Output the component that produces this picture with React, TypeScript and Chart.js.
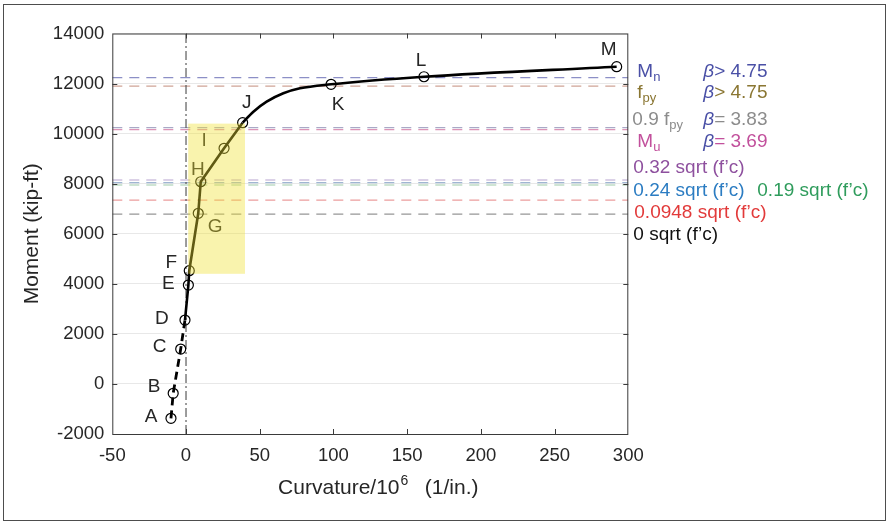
import React, { useEffect, useRef } from "react";
import { Chart, registerables } from "chart.js";

Chart.register(...registerables);

// ---- data ----
const pointNames = ["A", "B", "C", "D", "E", "F", "G", "H", "I", "J", "K", "L", "M"];
const pointX = [-10.2, -8.7, -3.6, -0.7, 1.6, 2.2, 8.3, 10.0, 25.8, 38.4, 98.4, 161.4, 292.1];
const pointY = [-1374, -375, 1394, 2553, 3950, 4523, 6816, 8078, 9413, 10436, 11970, 12273, 12673];

// dashed (pre-cracking) part: A..D, solid part D..J, smooth part J..M
const dashedX = [-10.2, -8.7, -3.6, -0.7];
const dashedY = [-1374, -375, 1394, 2553];
const solidX = [-0.7, 1.6, 2.2, 8.3, 10.0, 25.8, 38.4];
const solidY = [2553, 3950, 4523, 6816, 8078, 9413, 10436];
const curveX = [38.4, 45.7, 54.7, 66.0, 77.3, 98.4, 161.4, 292.1];
const curveY = [10436, 10875, 11275, 11610, 11810, 11970, 12273, 12673];

// horizontal reference levels
const refNames = ["Mn", "fpy", "0.9 fpy", "Mu", "0.32 sqrt", "0.24 sqrt", "0.19 sqrt", "0.0948 sqrt", "0 sqrt"];
const refValues = [12236, 11900, 10240, 10160, 8147, 8040, 7947, 7347, 6788];
const refColors = ["#8c8fc6", "#cfa496", "#a9a9c6", "#dc94b6", "#b7a3cf", "#9fb6d2", "#9fcbaa", "#ec9d9d", "#969696"];

// shaded region
const shadeX = [1.5, 40];
const shadeY = [4400, 10400];

const xMin = -50, xMax = 300, xStep = 50;
const yMin = -2000, yMax = 14000, yStep = 2000;

const FONT = '"Liberation Sans", Arial, Helvetica, sans-serif';
const TXT = "#262626";

const labelOffsets: Record<string, [number, number]> = {
  A: [-20, -2], B: [-19, -7], C: [-21, -2], D: [-23, -1], E: [-20, -1], F: [-18, -8],
  G: [17, 13], H: [-3, -12], I: [-20, -8], J: [4, -20], K: [7, 20], L: [-3, -16], M: [-8, -17],
};

type Part = { t: string; c: string; sub?: boolean; it?: boolean };

function drawRich(ctx: CanvasRenderingContext2D, x: number, baseline: number, parts: Part[]) {
  let cx = x;
  for (const p of parts) {
    const size = p.sub ? 13 : 19;
    ctx.font = `${p.it ? "italic " : ""}${size}px ${FONT}`;
    ctx.fillStyle = p.c;
    ctx.textAlign = "left";
    ctx.textBaseline = "alphabetic";
    ctx.fillText(p.t, cx, baseline + (p.sub ? 4 : 0));
    cx += ctx.measureText(p.t).width;
  }
}

const overlayPlugin = {
  id: "overlay",
  afterDatasetsDraw(chart: any) {
    const { ctx, scales } = chart;
    const x = scales.x, y = scales.y;
    ctx.save();
    ctx.font = `19px ${FONT}`;
    ctx.fillStyle = TXT;
    ctx.textAlign = "center";
    ctx.textBaseline = "middle";
    pointNames.forEach((n, i) => {
      const [dx, dy] = labelOffsets[n];
      ctx.fillText(n, x.getPixelForValue(pointX[i]) + dx, y.getPixelForValue(pointY[i]) + dy);
    });
    // semi-transparent yellow patch on top
    const x0 = x.getPixelForValue(shadeX[0]);
    const x1 = x.getPixelForValue(shadeX[1]);
    const y0 = y.getPixelForValue(shadeY[1]);
    const y1 = y.getPixelForValue(shadeY[0]);
    ctx.fillStyle = "rgba(240,225,50,0.4)";
    ctx.fillRect(x0, y0, x1 - x0, y1 - y0);
    ctx.restore();
  },
  afterDraw(chart: any) {
    const { ctx, chartArea: a, scales } = chart;
    const x = scales.x, y = scales.y;
    ctx.save();
    // axes box
    ctx.strokeStyle = "#3a3a3a";
    ctx.lineWidth = 1;
    ctx.strokeRect(a.left + 0.5, a.top + 0.5, a.right - a.left - 1, a.bottom - a.top);
    // inward ticks
    ctx.beginPath();
    for (let v = xMin + xStep; v < xMax; v += xStep) {
      const px = Math.round(x.getPixelForValue(v)) + 0.5;
      ctx.moveTo(px, a.bottom); ctx.lineTo(px, a.bottom - 5);
      ctx.moveTo(px, a.top); ctx.lineTo(px, a.top + 5);
    }
    for (let v = yMin + yStep; v < yMax; v += yStep) {
      const py = Math.round(y.getPixelForValue(v)) + 0.5;
      ctx.moveTo(a.left, py); ctx.lineTo(a.left + 5, py);
      ctx.moveTo(a.right, py); ctx.lineTo(a.right - 5, py);
    }
    ctx.stroke();

    // x-axis title with superscript
    const cxTitle = (a.left + a.right) / 2 + 8;
    const base = 494;
    ctx.font = `21px ${FONT}`;
    const w1 = ctx.measureText("Curvature/10").width;
    const w3 = ctx.measureText("   (1/in.)").width;
    ctx.font = `14px ${FONT}`;
    const w2 = ctx.measureText("6").width;
    let sx = cxTitle - (w1 + w2 + w3) / 2;
    ctx.fillStyle = TXT;
    ctx.textAlign = "left";
    ctx.textBaseline = "alphabetic";
    ctx.font = `21px ${FONT}`;
    ctx.fillText("Curvature/10", sx, base);
    sx += w1;
    ctx.font = `14px ${FONT}`;
    ctx.fillText("6", sx + 1, base - 9);
    sx += w2;
    ctx.font = `21px ${FONT}`;
    ctx.fillText("   (1/in.)", sx, base);

    // right-hand annotations
    const beta = "#4a50a6";
    const lx = a.right + 9;
    const bx = a.right + 75;
    drawRich(ctx, lx, 77, [{ t: "M", c: "#4a50a6" }, { t: "n", c: "#4a50a6", sub: true }]);
    drawRich(ctx, bx, 77, [{ t: "β", c: beta, it: true }, { t: "> 4.75", c: "#4a50a6" }]);
    drawRich(ctx, lx, 98, [{ t: "f", c: "#8a7632" }, { t: "py", c: "#8a7632", sub: true }]);
    drawRich(ctx, bx, 98, [{ t: "β", c: beta, it: true }, { t: "> 4.75", c: "#8a7632" }]);
    drawRich(ctx, lx - 5, 125, [{ t: "0.9 f", c: "#8c8c8c" }, { t: "py", c: "#8c8c8c", sub: true }]);
    drawRich(ctx, bx, 125, [{ t: "β", c: beta, it: true }, { t: "= 3.83", c: "#8c8c8c" }]);
    drawRich(ctx, lx, 147, [{ t: "M", c: "#c2509c" }, { t: "u", c: "#c2509c", sub: true }]);
    drawRich(ctx, bx, 147, [{ t: "β", c: beta, it: true }, { t: "= 3.69", c: "#c2509c" }]);
    drawRich(ctx, lx - 4, 173, [{ t: "0.32 sqrt (f’c)", c: "#8e509e" }]);
    drawRich(ctx, lx - 4, 196, [{ t: "0.24 sqrt (f’c)", c: "#2b7cc2" }]);
    drawRich(ctx, lx + 120, 196, [{ t: "0.19 sqrt (f’c)", c: "#2f9c5c" }]);
    drawRich(ctx, lx - 3, 217.5, [{ t: "0.0948 sqrt (f’c)", c: "#e23a3a" }]);
    drawRich(ctx, lx - 4, 239.5, [{ t: "0 sqrt (f’c)", c: "#111111" }]);
    ctx.restore();
  },
};

export default function App() {
  const canvasRef = useRef<HTMLCanvasElement | null>(null);

  useEffect(() => {
    if (!canvasRef.current) return;
    const toPts = (xs: number[], ys: number[]) => xs.map((v, i) => ({ x: v, y: ys[i] }));
    const lineBase = { showLine: true, pointRadius: 0, fill: false, tension: 0 };

    const refSets = refValues.map((v, i) => ({
      ...lineBase,
      label: refNames[i],
      data: [{ x: xMin, y: v }, { x: xMax, y: v }],
      borderColor: refColors[i],
      borderWidth: 1.2,
      borderDash: [10, 7],
    }));

    const chart = new Chart(canvasRef.current, {
      type: "scatter",
      data: {
        datasets: [
          {
            label: "points",
            data: toPts(pointX, pointY),
            showLine: false,
            pointRadius: 5,
            pointBorderWidth: 1.2,
            pointBorderColor: "#000",
            pointBackgroundColor: "rgba(0,0,0,0)",
          },
          { ...lineBase, label: "solid", data: toPts(solidX, solidY), borderColor: "#000", borderWidth: 2.6 },
          {
            ...lineBase,
            label: "curve",
            data: toPts(curveX, curveY),
            borderColor: "#000",
            borderWidth: 2.6,
            cubicInterpolationMode: "monotone",
          },
          {
            ...lineBase,
            label: "dashed",
            data: toPts(dashedX, dashedY),
            borderColor: "#000",
            borderWidth: 2.8,
            borderDash: [8, 5],
          },
          {
            ...lineBase,
            label: "zero",
            data: [{ x: 0, y: yMin }, { x: 0, y: yMax }],
            borderColor: "#5a5a5a",
            borderWidth: 1.2,
            borderDash: [9, 3, 2, 3],
          },
          ...refSets,
        ] as any,
      },
      options: {
        animation: false,
        responsive: false,
        devicePixelRatio: 1,
        layout: { padding: { left: 0, top: 33.5, right: 257.7, bottom: 0 } },
        plugins: { legend: { display: false }, tooltip: { enabled: false } },
        scales: {
          x: {
            type: "linear",
            min: xMin,
            max: xMax,
            afterFit: (s: any) => { s.height = 87; },
            grid: { display: false, drawTicks: false },
            border: { display: false },
            ticks: {
              stepSize: xStep,
              padding: 11,
              color: TXT,
              font: { family: FONT, size: 18.5 },
              maxRotation: 0,
              callback: (v: any) => String(v),
            },
          },
          y: {
            type: "linear",
            min: yMin,
            max: yMax,
            afterFit: (s: any) => { s.width = 112.3; },
            grid: { color: "#e8e8e8", lineWidth: 1, drawTicks: false },
            border: { display: false },
            ticks: {
              stepSize: yStep,
              padding: 8,
              color: TXT,
              font: { family: FONT, size: 18.5 },
              callback: (v: any) => String(v),
            },
            title: {
              display: true,
              text: "Moment (kip-ft)",
              color: TXT,
              font: { family: FONT, size: 21 },
              padding: { top: 20, bottom: 0 },
            },
          },
        },
      } as any,
      plugins: [overlayPlugin],
    });
    return () => chart.destroy();
  }, []);

  return (
    <div style={{ position: "absolute", left: 0, top: 0, width: 886, height: 521, background: "#fff" }}>
      <canvas ref={canvasRef} width={886} height={521} style={{ position: "absolute", left: 0, top: 0, width: 886, height: 521 }} />
      <div
        style={{
          position: "absolute",
          left: 3,
          top: 4,
          width: 883,
          height: 517,
          boxSizing: "border-box",
          border: "1.5px solid #4d4d4d",
          pointerEvents: "none",
        }}
      />
    </div>
  );
}
